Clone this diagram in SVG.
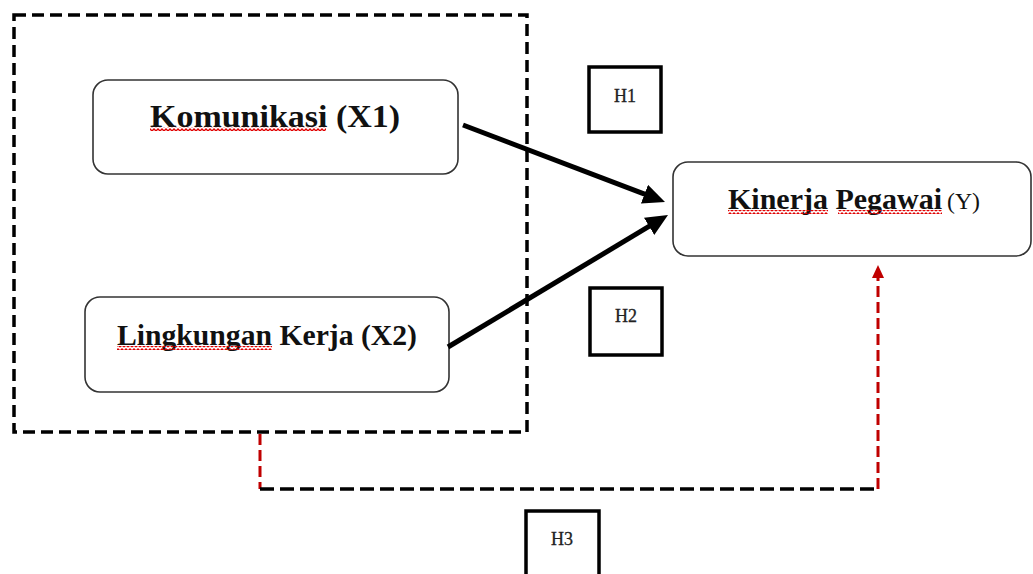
<svg xmlns="http://www.w3.org/2000/svg" width="1033" height="574" viewBox="0 0 1033 574">
<style>
.node{fill:#fff;stroke:#333;stroke-width:1.6}
.hbox{fill:#fff;stroke:#000;stroke-width:3.5}
.lbl{font-family:"Liberation Serif","Times New Roman",serif;font-weight:bold;fill:#111}
.hl{font-family:"Liberation Serif","Times New Roman",serif;font-size:18px;fill:#222;text-anchor:middle;stroke:#222;stroke-width:0.3}
.frame{fill:none;stroke:#000;stroke-width:3.5;stroke-dasharray:12 6}
.arrow{stroke:#000;stroke-width:5;fill:none;marker-end:url(#ah)}
.red{stroke:#c00000;stroke-width:3;fill:none;stroke-dasharray:11 5}
.blk{stroke:#000;stroke-width:3.5;fill:none;stroke-dasharray:14 6}
</style>
<defs>
<marker id="ah" markerUnits="userSpaceOnUse" markerWidth="22" markerHeight="20" viewBox="0 0 22 20" refX="10" refY="10" orient="auto"><path d="M0,0 L22,10 L0,20 z" fill="#000"/></marker>
<marker id="ahr" markerUnits="userSpaceOnUse" markerWidth="13" markerHeight="12" viewBox="0 0 13 12" refX="2" refY="6" orient="auto"><path d="M0,0 L13,6 L0,12 z" fill="#c00000"/></marker>
<pattern id="sq" width="4" height="4" patternUnits="userSpaceOnUse"><path d="M0,3 L2,1 L4,3" fill="none" stroke="#e00000" stroke-width="1.3"/></pattern>
</defs>
<rect width="1033" height="574" fill="#fff"/>
<g id="frame"><rect class="frame" x="14" y="15" width="513" height="417"/></g>
<g id="komunikasi">
<rect class="node" x="93" y="80" width="365" height="94" rx="15"/>
<text class="lbl" x="150" y="127" font-size="32" textLength="250" lengthAdjust="spacingAndGlyphs">Komunikasi (X1)</text>
<rect x="150" y="127" width="176" height="4" fill="url(#sq)"/>
</g>
<g id="lingkungan">
<rect class="node" x="85" y="297" width="364" height="95" rx="15"/>
<text class="lbl" x="117" y="345" font-size="30" textLength="300" lengthAdjust="spacingAndGlyphs">Lingkungan Kerja (X2)</text>
<rect x="117" y="346" width="155" height="4" fill="url(#sq)"/>
</g>
<g id="kinerja">
<rect class="node" x="673" y="162" width="358" height="94" rx="15"/>
<text class="lbl" x="728" y="209" font-size="29" textLength="214" lengthAdjust="spacingAndGlyphs">Kinerja Pegawai</text>
<text x="947" y="209" font-family="'Liberation Serif','Times New Roman',serif" font-size="23" fill="#111" textLength="33" lengthAdjust="spacingAndGlyphs">(Y)</text>
<rect x="728" y="210" width="100" height="4" fill="url(#sq)"/>
<rect x="838" y="210" width="104" height="4" fill="url(#sq)"/>
</g>
<g id="h1"><rect class="hbox" x="589" y="67" width="72" height="65"/><text class="hl" x="625" y="102">H1</text></g>
<g id="h2"><rect class="hbox" x="590" y="288" width="72" height="67"/><text class="hl" x="626" y="322">H2</text></g>
<g id="h3"><rect class="hbox" x="526" y="511" width="73" height="70"/><text class="hl" x="562" y="545">H3</text></g>
<g id="connectors">
<line class="arrow" x1="463" y1="125" x2="653.8" y2="197.7"/>
<line class="arrow" x1="448" y1="347" x2="657.7" y2="221.2"/>
<line class="red" x1="260" y1="434" x2="260" y2="489"/>
<line class="blk" x1="260" y1="489" x2="878" y2="489"/>
<line class="red" x1="878" y1="489" x2="878" y2="276" marker-end="url(#ahr)"/>
</g>
</svg>
